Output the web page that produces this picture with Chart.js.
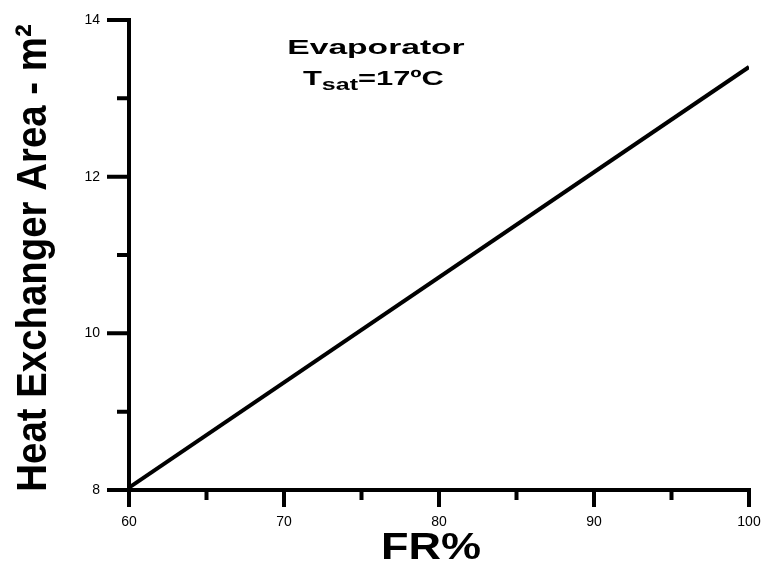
<!DOCTYPE html>
<html>
<head>
<meta charset="utf-8">
<script src="https://cdn.jsdelivr.net/npm/chart.js@4"></script>
<style>
	html, body { margin: 0; padding: 0; background: #fff; }
	#wrap { width: 764px; height: 562px; }
</style>
</head>
<body>
<div id="wrap"><canvas id="main_chart" width="764" height="562"></canvas></div>
<script>
// data
const frPercent = [60, 100]
const hxArea = [8.03, 13.4]
const xMajorTicks = [60, 70, 80, 90, 100]
const xMinorTicks = [65, 75, 85, 95]
const yMajorTicks = [8, 10, 12, 14]
const yMinorTicks = [9, 11, 13]
const xTitle = 'FR%'
const yTitle = 'Heat Exchanger Area - m²'
const noteTitle = 'Evaporator'

// draw axes, ticks, titles and the note by hand
const frame = {
	id: 'frame',
	afterDatasetsDraw(chart) {
		const ctx = chart.ctx
		const xs = chart.scales.x
		const ys = chart.scales.y
		const x0 = xs.getPixelForValue(60)
		const y0 = ys.getPixelForValue(8)
		ctx.save()
		ctx.strokeStyle = '#000'
		ctx.lineCap = 'butt'
		ctx.lineWidth = 4
		ctx.beginPath()
		// y axis
		ctx.moveTo(x0, ys.getPixelForValue(14) - 2)
		ctx.lineTo(x0, y0)
		// x axis
		ctx.moveTo(x0 - 22, y0)
		ctx.lineTo(xs.getPixelForValue(100) + 2, y0)
		yMajorTicks.forEach(v => {
			const p = ys.getPixelForValue(v)
			ctx.moveTo(x0 - 22, p)
			ctx.lineTo(x0, p)
		})
		yMinorTicks.forEach(v => {
			const p = ys.getPixelForValue(v)
			ctx.moveTo(x0 - 12, p)
			ctx.lineTo(x0, p)
		})
		xMajorTicks.forEach(v => {
			const p = xs.getPixelForValue(v)
			ctx.moveTo(p, y0)
			ctx.lineTo(p, y0 + 17)
		})
		xMinorTicks.forEach(v => {
			const p = xs.getPixelForValue(v)
			ctx.moveTo(p, y0)
			ctx.lineTo(p, y0 + 10)
		})
		ctx.stroke()

		ctx.fillStyle = '#000'
		// x title, a bit wide like the original
		ctx.save()
		ctx.translate((xs.left + xs.right) / 2 - 8, 559)
		ctx.scale(1.25, 1)
		ctx.font = 'bold 36px "Liberation Sans", Arial, sans-serif'
		ctx.textAlign = 'center'
		ctx.textBaseline = 'alphabetic'
		ctx.fillText(xTitle, 0, 0)
		ctx.restore()

		// y title, rotated
		ctx.save()
		ctx.translate(46, 258)
		ctx.rotate(-Math.PI / 2)
		ctx.scale(0.96, 1.08)
		ctx.font = 'bold 40px "Liberation Sans", Arial, sans-serif'
		ctx.textAlign = 'center'
		ctx.textBaseline = 'alphabetic'
		ctx.fillText(yTitle, 0, 0)
		ctx.restore()

		// note
		ctx.save()
		ctx.translate(376, 54)
		ctx.scale(1.6, 1)
		ctx.font = 'bold 21px "Liberation Sans", Arial, sans-serif'
		ctx.textAlign = 'center'
		ctx.fillText(noteTitle, 0, 0)
		ctx.restore()

		ctx.save()
		ctx.translate(303, 85)
		ctx.scale(1.47, 1)
		ctx.textAlign = 'left'
		ctx.font = 'bold 21px "Liberation Sans", Arial, sans-serif'
		ctx.fillText('T', 0, 0)
		let w = ctx.measureText('T').width
		ctx.font = 'bold 17px "Liberation Sans", Arial, sans-serif'
		ctx.fillText('sat', w, 5)
		w += ctx.measureText('sat').width
		ctx.font = 'bold 21px "Liberation Sans", Arial, sans-serif'
		ctx.fillText('=17ºC', w, 0)
		ctx.restore()

		ctx.restore()
	},
}

// no extra room for overhanging tick labels
function zeroPadding(scale) {
	scale.paddingTop = 0
	scale.paddingBottom = 0
	scale.paddingLeft = 0
	scale.paddingRight = 0
}

new Chart(document.getElementById('main_chart'), {
	type: 'line',
	data: {
		labels: frPercent,
		datasets: [
			{
				label: 'Area',
				data: frPercent.map((x, i) => ({ x, y: hxArea[i] })),
				borderColor: '#000',
				borderWidth: 4,
				pointRadius: 0,
				fill: false,
				tension: 0,
			},
		],
	},
	options: {
		responsive: false,
		animation: false,
		layout: {
			padding: { top: 20, right: 15, left: 0, bottom: 0 },
		},
		plugins: {
			legend: false,
			tooltip: { enabled: false },
		},
		scales: {
			x: {
				type: 'linear',
				min: 60,
				max: 100,
				afterFit: scale => {
					scale.height = 72
					zeroPadding(scale)
				},
				afterBuildTicks: scale => {
					scale.ticks = xMajorTicks.map(value => ({ value }))
				},
				grid: { display: false, drawTicks: false },
				border: { display: false },
				ticks: {
					color: '#000',
					padding: 24,
					maxRotation: 0,
					font: { family: '"Liberation Sans", Arial, sans-serif', size: 14 },
				},
			},
			y: {
				type: 'linear',
				min: 8,
				max: 14,
				afterFit: scale => {
					scale.width = 129
					zeroPadding(scale)
				},
				afterBuildTicks: scale => {
					scale.ticks = yMajorTicks.map(value => ({ value }))
				},
				grid: { display: false, drawTicks: false },
				border: { display: false },
				ticks: {
					color: '#000',
					padding: 29,
					font: { family: '"Liberation Sans", Arial, sans-serif', size: 14 },
				},
			},
		},
	},
	plugins: [frame],
})
</script>
</body>
</html>
